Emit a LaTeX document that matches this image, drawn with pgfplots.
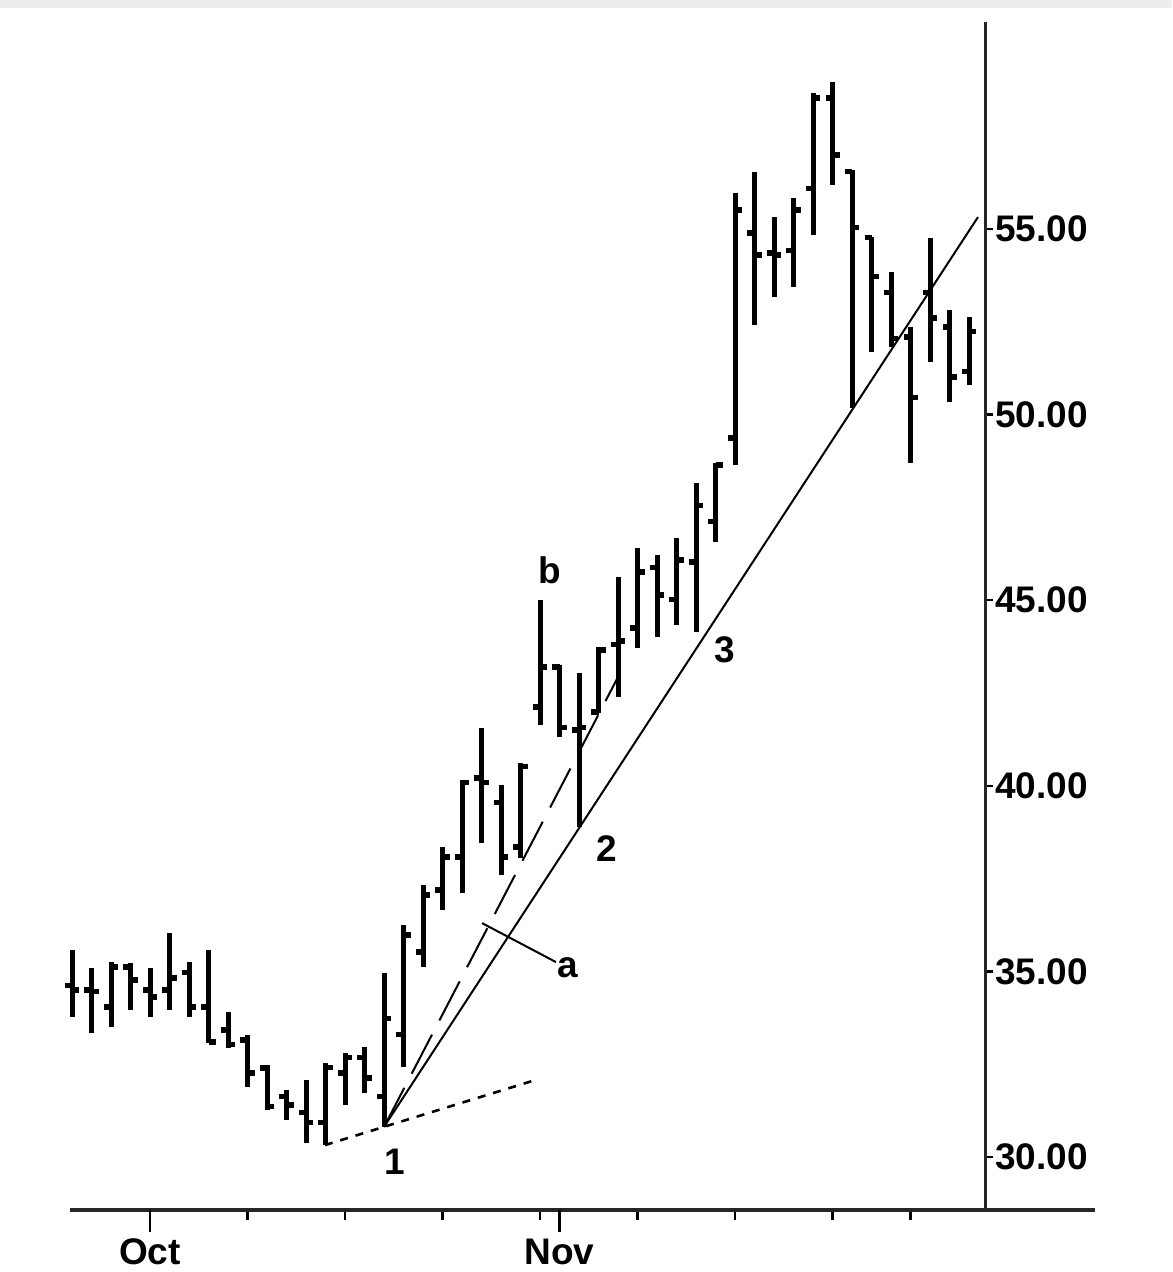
\documentclass[border=0pt]{standalone}
\usepackage{fontspec}
\setmainfont{Liberation Sans}
\usepackage{pgfplots}
\usepackage{pgfplotstable}
\pgfplotsset{compat=1.18}

% daily bars: index, open, high, low, close
\pgfplotstableread{
i open high low close
0 34.62 35.58 33.77 34.50
1 34.50 35.09 33.34 34.45
2 34.04 35.25 33.50 35.12
3 35.12 35.23 33.96 34.77
4 34.50 35.09 33.77 34.31
5 34.50 36.03 33.96 34.82
6 34.96 35.25 33.77 34.04
7 34.04 35.58 33.07 33.10
8 33.42 33.91 32.94 33.02
9 33.15 33.29 31.89 32.26
10 32.40 32.48 31.27 31.35
11 31.62 31.80 31.00 31.40
12 31.19 32.07 30.38 30.92
13 30.92 32.53 30.32 32.42
14 32.26 32.80 31.40 32.69
15 32.69 32.96 31.72 32.13
16 31.62 34.96 30.81 33.74
17 33.29 36.25 32.42 35.98
18 35.52 37.33 35.12 37.06
19 37.19 38.35 36.65 38.08
20 38.08 40.16 37.11 40.08
21 40.21 41.56 38.46 40.08
22 39.56 40.02 37.60 38.08
23 38.35 40.61 38.05 40.51
24 42.12 45.01 41.64 43.20
25 43.20 43.25 41.31 41.56
26 41.50 43.04 38.89 41.56
27 41.99 43.74 41.96 43.66
28 43.80 45.62 42.39 43.90
29 44.25 46.41 43.71 45.76
30 45.89 46.22 44.01 45.14
31 45.01 46.68 44.33 46.08
32 46.03 48.16 44.14 47.56
33 47.11 48.70 46.57 48.64
34 49.37 55.97 48.64 55.51
35 54.89 56.54 52.41 54.30
36 54.35 55.32 53.17 54.30
37 54.43 55.83 53.44 55.51
38 56.10 58.66 54.84 58.53
39 58.53 58.96 56.19 56.99
40 56.54 56.59 50.18 55.05
41 54.76 54.78 51.69 53.71
42 53.28 53.84 51.82 52.06
43 52.09 52.36 48.70 50.47
44 53.28 54.76 51.42 52.60
45 52.36 52.82 50.34 51.01
46 51.15 52.63 50.80 52.23
}\ohlc

\newcommand{\lbl}{\fontsize{18.5}{20}\selectfont\bfseries}

\begin{document}
\begin{tikzpicture}[x=1pt,y=1pt]
\path[use as bounding box] (-35,-31) rectangle (551,605);
\fill[black!7] (-35,601) rectangle (551,605);

% time axis
\begin{axis}[
    at={(0,0)}, anchor=south west,
    scale only axis, width=512.5pt, height=594pt,
    xmin=-0.1026, xmax=52.46, ymin=28.572, ymax=60.576,
    axis x line=bottom, axis y line=none,
    axis line style={-, line width=1.9pt, black!85},
    tick align=outside, major tick length=5pt,
    tick style={line width=1.3pt, black},
    xtick={9,14,19,24,29,34,39,43}, xticklabels={},
    extra x ticks={4,25}, extra x tick labels={Oct,Nov},
    extra x tick style={grid=none, major tick length=11pt},
    xticklabel style={font=\lbl, yshift=0pt},
]
\end{axis}

% price axis and bars
\begin{axis}[
    at={(0,0)}, anchor=south west,
    scale only axis, width=457.5pt, height=594pt,
    xmin=-0.1026, xmax=46.82, ymin=28.572, ymax=60.576,
    axis y line=right, axis x line=none,
    axis line style={-, line width=1.5pt, black!85},
    tick align=outside, major tick length=4pt,
    tick style={line width=1.2pt, black},
    ytick={30,35,40,45,50,55},
    yticklabel style={font=\lbl, xshift=-2.5pt, /pgf/number format/.cd, fixed, fixed zerofill, precision=2, assume math mode=true},
    clip=false,
]
% high-low
\addplot[draw=none, mark=none, error bars/.cd, y dir=both, y explicit, error mark=none,
    error bar style={draw=black, solid, line width=2.5pt}]
    table[x=i, y expr={(\thisrow{high}+\thisrow{low})/2}, y error expr={(\thisrow{high}-\thisrow{low})/2}] {\ohlc};
% open
\addplot[draw=none, mark=none, error bars/.cd, x dir=minus, x fixed=0.36, error mark=none,
    error bar style={draw=black, solid, line width=2.6pt}]
    table[x=i, y=open] {\ohlc};
% close
\addplot[draw=none, mark=none, error bars/.cd, x dir=plus, x fixed=0.36, error mark=none,
    error bar style={draw=black, solid, line width=2.6pt}]
    table[x=i, y=close] {\ohlc};

% trend lines
\addplot[black, line width=1pt] coordinates {(16,30.81) (46.46,55.32)};
\addplot[black, line width=1pt, dash pattern=on 22pt off 8pt] coordinates {(16,30.81) (28.0,42.93)};
\addplot[black, line width=1.3pt, dash pattern=on 4pt off 4pt] coordinates {(12.97,30.32) (23.74,32.07)};
\addplot[black, line width=1pt] coordinates {(21.03,36.30) (24.82,35.25)};

\node[font=\lbl] at (axis cs:16.56,29.87) {1};
\node[font=\lbl] at (axis cs:27.44,38.32) {2};
\node[font=\lbl] at (axis cs:33.49,43.66) {3};
\node[font=\lbl] at (axis cs:25.44,35.09) {a};
\node[font=\lbl] at (axis cs:24.51,45.81) {b};
\end{axis}
\end{tikzpicture}
\end{document}
